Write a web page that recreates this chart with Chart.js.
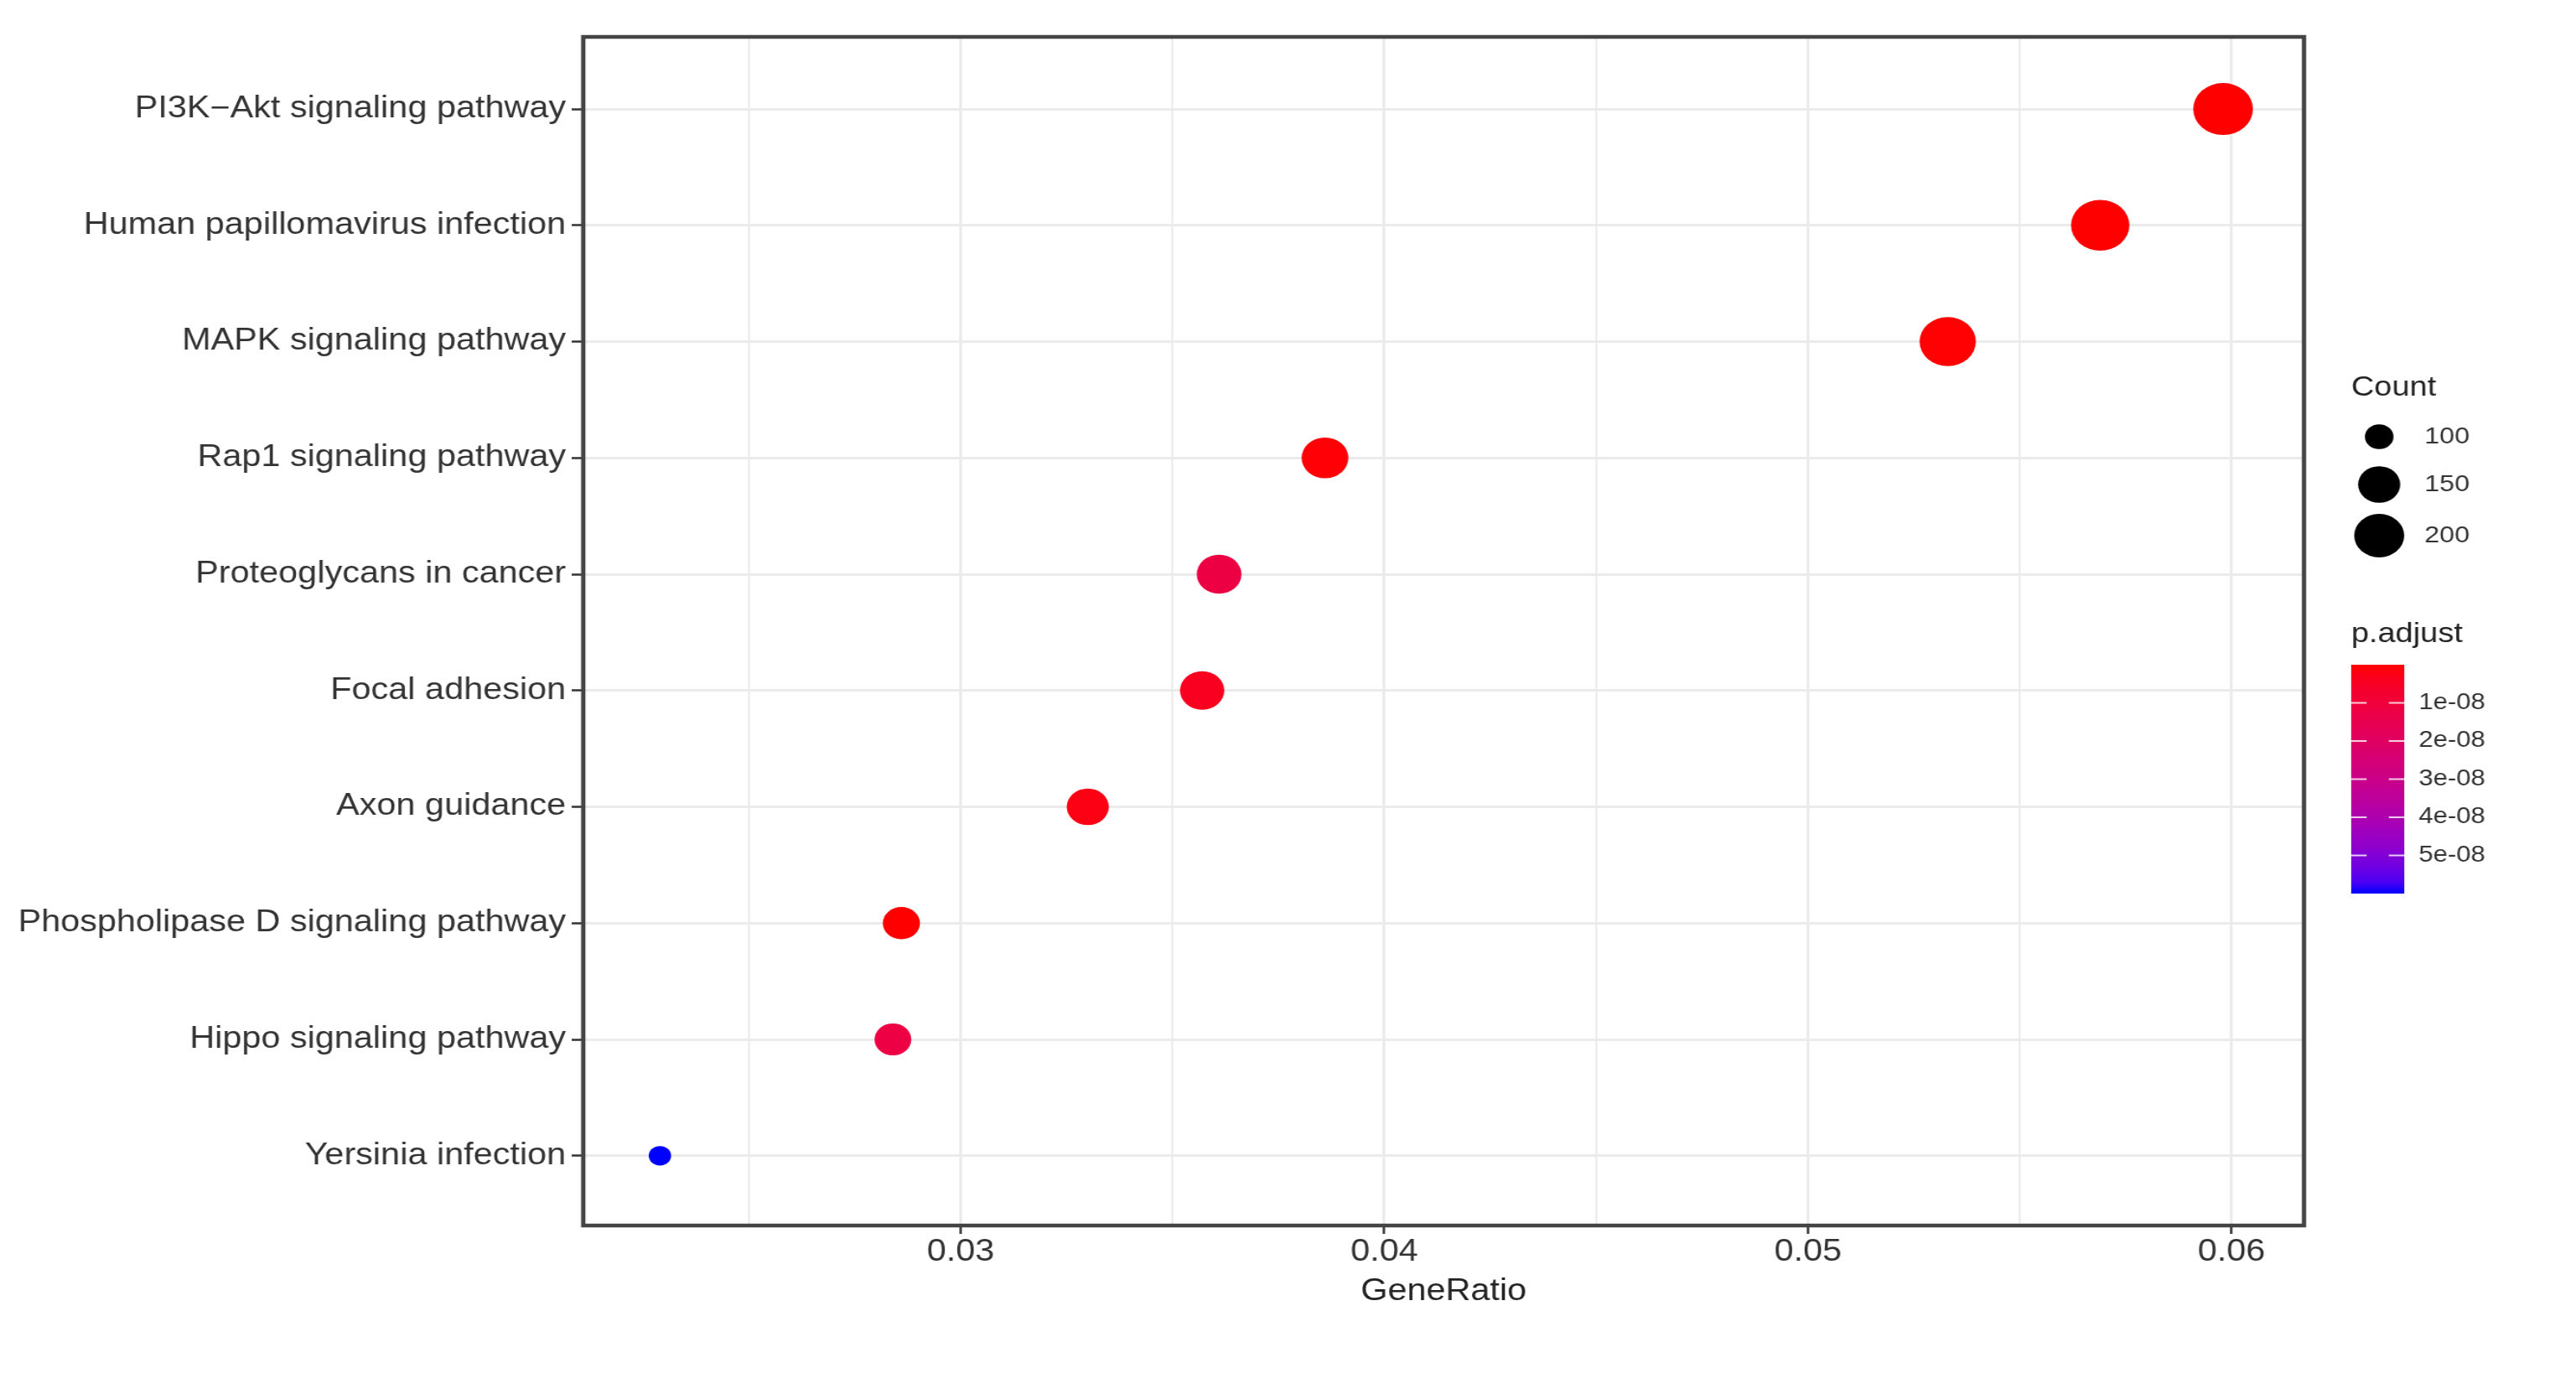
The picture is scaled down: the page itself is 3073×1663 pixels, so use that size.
<!DOCTYPE html>
<html>
<head>
<meta charset="utf-8">
<title>KEGG dotplot</title>
<script src="https://cdn.jsdelivr.net/npm/chart.js@4.4.0/dist/chart.umd.min.js"></script>
<style>
  html, body { margin: 0; padding: 0; background: #fff; overflow: hidden; }
  /* the reference image is slightly stretched horizontally */
  #wrap { width: 2672px; height: 1663px; transform: scaleX(1.15); transform-origin: 0 0; }
</style>
</head>
<body>
<div id="wrap"><canvas id="dotplot"></canvas></div>
<script>
// === DATOS (de arriba a abajo) ===
const pathways = [
  "PI3K\u2212Akt signaling pathway",
  "Human papillomavirus infection",
  "MAPK signaling pathway",
  "Rap1 signaling pathway",
  "Proteoglycans in cancer",
  "Focal adhesion",
  "Axon guidance",
  "Phospholipase D signaling pathway",
  "Hippo signaling pathway",
  "Yersinia infection"
];
const geneRatio = [0.0598, 0.0569, 0.0533, 0.0386, 0.0361, 0.0357, 0.0330, 0.0286, 0.0284, 0.0229];
const geneCount = [240, 229, 214, 155, 145, 143, 133, 115, 114, 92];
const pAdjust = [2e-11, 5e-11, 3e-10, 5e-10, 1.18e-8, 4e-9, 2e-9, 1e-10, 1.2e-8, 6.0e-8];

const xTicks = [0.025, 0.03, 0.035, 0.04, 0.045, 0.05, 0.055, 0.06];
const countBreaks = [100, 150, 200];
const pBreaks = [1e-8, 2e-8, 3e-8, 4e-8, 5e-8];

const FONT = '"Liberation Sans", Arial, sans-serif';
Chart.defaults.font.family = FONT;

// === TAMAÑO DEL PUNTO (como scale_size range 3-8) ===
const cMin = Math.min(...geneCount), cMax = Math.max(...geneCount);
function radiusFor(c) {
  const t = Math.max(0, (c - cMin) / (cMax - cMin));
  return 31 * (3 + 5 * Math.sqrt(t)) / 8;
}

// === COLOR (gradiente rojo -> azul en espacio Lab) ===
const srgbToLin = c => { c /= 255; return c <= 0.04045 ? c / 12.92 : Math.pow((c + 0.055) / 1.055, 2.4); };
const linToSrgb = c => {
  c = c <= 0.0031308 ? 12.92 * c : 1.055 * Math.pow(c, 1 / 2.4) - 0.055;
  return Math.round(Math.min(1, Math.max(0, c)) * 255);
};
function hexToLab(hex) {
  const r = srgbToLin(parseInt(hex.slice(1, 3), 16));
  const g = srgbToLin(parseInt(hex.slice(3, 5), 16));
  const b = srgbToLin(parseInt(hex.slice(5, 7), 16));
  const x = (0.4124 * r + 0.3576 * g + 0.1805 * b) / 0.95047;
  const y = 0.2126 * r + 0.7152 * g + 0.0722 * b;
  const z = (0.0193 * r + 0.1192 * g + 0.9505 * b) / 1.08883;
  const f = t => t > 0.008856 ? Math.cbrt(t) : 7.787 * t + 16 / 116;
  return [116 * f(y) - 16, 500 * (f(x) - f(y)), 200 * (f(y) - f(z))];
}
function labToCss([L, a, b]) {
  const fy = (L + 16) / 116, fx = fy + a / 500, fz = fy - b / 200;
  const inv = t => t > 0.206893 ? t * t * t : (t - 16 / 116) / 7.787;
  const x = inv(fx) * 0.95047, y = inv(fy), z = inv(fz) * 1.08883;
  const r = 3.2406 * x - 1.5372 * y - 0.4986 * z;
  const g = -0.9689 * x + 1.8758 * y + 0.0415 * z;
  const bl = 0.0557 * x - 0.2040 * y + 1.0570 * z;
  return `rgb(${linToSrgb(r)}, ${linToSrgb(g)}, ${linToSrgb(bl)})`;
}
const labLow = hexToLab("#FF0000"), labHigh = hexToLab("#0000FF");
const pMin = Math.min(...pAdjust), pMax = Math.max(...pAdjust);
function colorFor(p) {
  const t = Math.min(1, Math.max(0, (p - pMin) / (pMax - pMin)));
  return labToCss(labLow.map((v, i) => v + (labHigh[i] - v) * t));
}

function sci(v) {
  const [m, e] = v.toExponential(0).split("e");
  const n = parseInt(e, 10);
  return m + "e" + (n < 0 ? "-" : "+") + String(Math.abs(n)).padStart(2, "0");
}
const isMajor = v => Math.abs(v * 100 - Math.round(v * 100)) < 1e-6;

// === BORDE DEL PANEL Y LEYENDAS ===
const panelAndLegend = {
  id: "panelAndLegend",
  afterDraw(chart) {
    const { ctx, chartArea: a } = chart;
    ctx.save();
    ctx.strokeStyle = "#444";
    ctx.lineWidth = 4.5;
    ctx.strokeRect(a.left, a.top, a.right - a.left, a.bottom - a.top);

    ctx.textAlign = "left";
    ctx.textBaseline = "middle";

    // Count
    ctx.fillStyle = "#222";
    ctx.font = `33px ${FONT}`;
    ctx.fillText("Count", 2439, 463);
    const dotY = [521, 578, 639];
    countBreaks.forEach((c, i) => {
      ctx.fillStyle = "#000";
      ctx.beginPath();
      ctx.arc(2468, dotY[i], radiusFor(c) * 0.92, 0, Math.PI * 2);
      ctx.fill();
      ctx.fillStyle = "#333";
      ctx.font = `28px ${FONT}`;
      ctx.fillText(String(c), 2515, dotY[i]);
    });

    // p.adjust
    ctx.fillStyle = "#222";
    ctx.font = `33px ${FONT}`;
    ctx.fillText("p.adjust", 2439, 757);
    const barL = 2439, barR = 2494, barT = 793, barB = 1066;
    const grad = ctx.createLinearGradient(0, barT, 0, barB);
    for (let s = 0; s <= 20; s++) grad.addColorStop(s / 20, colorFor(pMin + (pMax - pMin) * s / 20));
    ctx.fillStyle = grad;
    ctx.fillRect(barL, barT, barR - barL, barB - barT);
    pBreaks.forEach(v => {
      const y = barT + (v - pMin) / (pMax - pMin) * (barB - barT);
      ctx.strokeStyle = "rgba(255,255,255,0.8)";
      ctx.lineWidth = 2;
      ctx.beginPath();
      ctx.moveTo(barL, y); ctx.lineTo(barL + 16, y);
      ctx.moveTo(barR - 16, y); ctx.lineTo(barR, y);
      ctx.stroke();
      ctx.fillStyle = "#333";
      ctx.font = `27px ${FONT}`;
      ctx.fillText(sci(v), 2509, y);
    });
    ctx.restore();
  }
};

// === GRÁFICO DE PUNTOS ===
new Chart(document.getElementById("dotplot"), {
  type: "scatter",
  data: {
    datasets: [{
      data: pathways.map((p, i) => ({ x: geneRatio[i], y: i + 1 })),
      pointRadius: geneCount.map(radiusFor),
      pointHoverRadius: geneCount.map(radiusFor),
      pointBackgroundColor: pAdjust.map(colorFor),
      pointBorderWidth: 0,
      pointBorderColor: "rgba(0,0,0,0)"
    }]
  },
  options: {
    responsive: true,
    maintainAspectRatio: false,
    animation: false,
    layout: { padding: { top: 44, right: 282, bottom: 0, left: 0 } },
    plugins: { legend: { display: false }, tooltip: { enabled: false } },
    scales: {
      x: {
        type: "linear",
        min: 0.02109,
        max: 0.06171,
        afterBuildTicks: s => { s.ticks = xTicks.map(v => ({ value: v })); },
        afterFit: s => { s.height = 201; },
        border: { display: false },
        grid: {
          color: "#EBEBEB",
          lineWidth: c => (c.tick && isMajor(c.tick.value)) ? 3 : 2,
          tickLength: 10,
          tickWidth: 2.5,
          tickColor: c => (c.tick && isMajor(c.tick.value)) ? "#333" : "rgba(0,0,0,0)"
        },
        ticks: {
          autoSkip: false,
          maxRotation: 0,
          padding: 0,
          color: "#333",
          font: { size: 36 },
          callback: v => isMajor(v) ? v.toFixed(2) : ""
        },
        title: { display: true, text: "GeneRatio", color: "#222", font: { size: 36 }, padding: { top: 0, bottom: 100 } }
      },
      y: {
        type: "linear",
        min: 0.38,
        max: 10.6,
        reverse: true,
        afterBuildTicks: s => { s.ticks = pathways.map((p, i) => ({ value: i + 1 })); },
        afterFit: s => { s.width = 605; },
        border: { display: false },
        grid: { color: "#EBEBEB", lineWidth: 3, tickLength: 12, tickWidth: 2.5, tickColor: "#333" },
        ticks: {
          autoSkip: false,
          padding: 6,
          color: "#333",
          font: { size: 36 },
          callback: v => pathways[Math.round(v) - 1]
        }
      }
    }
  },
  plugins: [panelAndLegend]
});
</script>
</body>
</html>
